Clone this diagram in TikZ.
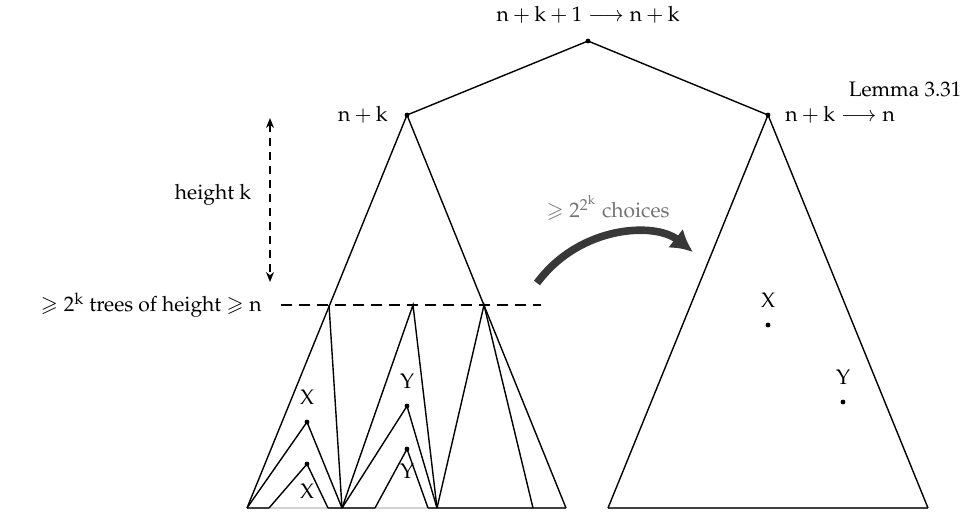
\documentclass[tikz,border=0pt]{standalone}
\usepackage{amsmath,amssymb}
\usepackage[T1]{fontenc}
\usepackage{mathpazo}
\usepackage{tikz}
\usepackage{xcolor}
\usetikzlibrary{arrows.meta}

\newcommand{\vn}{\mathrm{n}}
\newcommand{\vk}{\mathrm{k}}

\begin{document}
\begin{tikzpicture}[x=0.5pt,y=-0.5pt,line width=0.7pt,
  every node/.style={font=\fontsize{10.5}{12}\selectfont},
  dot/.style={circle,fill,inner sep=0pt,minimum size=2.4pt},
  base/.style={line width=1.1pt,black!75},
  inbase/.style={line width=1.1pt,gray!35}]
\useasboundingbox (0,0) rectangle (968,511);
% tree points
\coordinate (top) at (588,41);
\coordinate (lt) at (407,115);
\coordinate (rt) at (768,115);
\coordinate (lbl) at (247,508);
\coordinate (lbr) at (566,508);
\coordinate (rbl) at (608,508);
\coordinate (rbr) at (928,508);
\coordinate (a1) at (329,305);
\coordinate (a2) at (413,305);
\coordinate (a3) at (484,305);
\coordinate (b1) at (342,508);
\coordinate (b2) at (437,508);
\coordinate (b3) at (533,508);
\coordinate (xo) at (307,422);
\coordinate (xi) at (307,464);
\coordinate (yo) at (407,406);
\coordinate (yi) at (407,449);
\coordinate (xil) at (269,508);
\coordinate (xir) at (328,508);
\coordinate (yil) at (375,508);
\coordinate (yir) at (428,508);
\coordinate (rx) at (768,325);
\coordinate (ry) at (843,402);
% bases
\draw[base] (lbl) -- (lbr);
\draw[inbase] (xil) -- (xir);
\draw[inbase] (yil) -- (yir);
\draw[base] (rbl) -- (rbr);
% big trees
\draw (lt) -- (top) -- (rt);
\draw (lbl) -- (lt) -- (lbr);
\draw (rbl) -- (rt) -- (rbr);
% subtrees
\draw (a1) -- (b1);
\draw (b1) -- (a2) -- (b2);
\draw (b2) -- (a3) -- (b3);
\draw (lbl) -- (xo) -- (b1);
\draw (xil) -- (xi) -- (xir);
\draw (b1) -- (yo) -- (b2);
\draw (yil) -- (yi) -- (yir);
% dots
\foreach \p in {top,lt,rt,xo,xi,yo,yi,rx,ry}
  \node[dot] at (\p) {};
% labels
\node[above=5pt] (toplab) at (top) {$\vn+\vk+1\longrightarrow \vn+\vk$};
\node[left=6pt] (ltlab) at (lt) {$\vn+\vk$};
\node[right=5pt] (rtlab) at (rt) {$\vn+\vk\longrightarrow \vn$};
\node[inner sep=1pt] (lemma) at (905,89) {Lemma 3.31};
\node[above=5pt] at (xo) {$\mathrm{X}$};
\node[below=6pt] at (xi) {$\mathrm{X}$};
\node[above=5pt] at (yo) {$\mathrm{Y}$};
\node[below=3.5pt] at (yi) {$\mathrm{Y}$};
\node[above=5pt] at (rx) {$\mathrm{X}$};
\node[above=5pt] at (ry) {$\mathrm{Y}$};
% height k
\coordinate (hk1) at (270,118);
\coordinate (hk2) at (270,282);
\draw[dash pattern=on 4pt off 3pt,{Stealth[length=5pt,width=4pt]}-{Stealth[length=5pt,width=4pt]}] (hk1) -- (hk2);
\node (hk) at (213,195) {height $\vk$};
\coordinate (d1) at (281,305);
\coordinate (d2) at (541,305);
\draw[dash pattern=on 5.5pt off 3.5pt] (d1) -- (d2);
\node[left=6pt] (trees) at (d1) {$\geqslant 2^\vk$ trees of height $\geqslant \vn$};
% choices arrow
\coordinate (c1) at (537,283);
\coordinate (c2) at (693,252);
\draw[line width=3.8pt,black!78,-{Latex[length=11pt,width=12pt]}] (c1) .. controls (580,225) and (655,222) .. (c2);
\node[gray!90!black] (ch) at (608,208) {$\geqslant 2^{2^{\vk}}$ choices};
\end{tikzpicture}
\end{document}
